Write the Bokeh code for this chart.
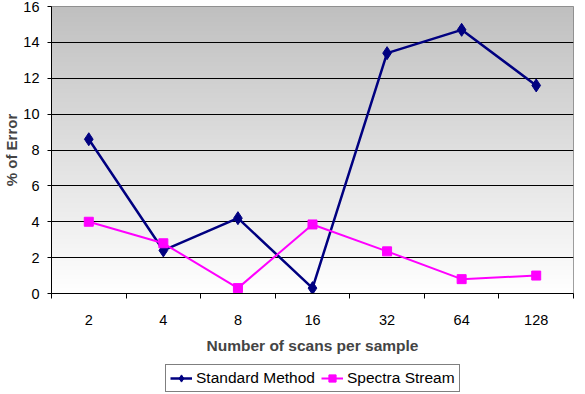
import numpy as np
from bokeh.plotting import figure
from bokeh.layouts import column
from bokeh.models import Range1d, FixedTicker, Legend, LegendItem
from bokeh.embed import file_html
from bokeh.resources import INLINE

# ---- data ----
scans = ["2", "4", "8", "16", "32", "64", "128"]
standard_method = [8.6, 2.4, 4.2, 0.3, 13.4, 14.7, 11.6]
spectra_stream = [4.0, 2.8, 0.3, 3.85, 2.35, 0.8, 1.0]
y_ticks = [0, 2, 4, 6, 8, 10, 12, 14, 16]
series_names = ["Standard Method", "Spectra Stream"]

FONT = "Liberation Sans"
navy = "#000080"
mag = "#FF00FF"

xs = [i + 0.5 for i in range(len(scans))]

p = figure(width=577, height=363, output_backend="svg", toolbar_location=None,
           x_range=Range1d(0, len(scans)), y_range=Range1d(0, 16),
           min_border_left=43, min_border_right=4, min_border_top=6,
           min_border_bottom=70)

p.background_fill_color = "white"
p.border_fill_color = "white"
p.outline_line_color = "#808080"
p.outline_line_width = 1

# plot-area gradient (grey top -> white bottom)
n = 256
t = np.linspace(0, 1, n)  # 0 bottom, 1 top
g = (255 - t * 63).astype(np.uint32)
img = np.empty((n, 1), dtype=np.uint32)
view = img.view(dtype=np.uint8).reshape((n, 1, 4))
view[:, 0, 0] = g
view[:, 0, 1] = g
view[:, 0, 2] = g
view[:, 0, 3] = 255
p.image_rgba(image=[img], x=0, y=0, dw=len(scans), dh=16, level="image")

# grid
p.xgrid.visible = False
p.ygrid.ticker = FixedTicker(ticks=y_ticks[1:-1])
p.ygrid.grid_line_color = "black"
p.ygrid.grid_line_width = 1

# y axis
p.yaxis.ticker = FixedTicker(ticks=y_ticks)
p.yaxis.axis_line_color = "black"
p.yaxis.major_tick_line_color = "black"
p.yaxis.major_tick_out = 4
p.yaxis.major_tick_in = 0
p.yaxis.minor_tick_line_color = None
p.yaxis.major_label_standoff = 8
p.yaxis.major_label_text_font = FONT
p.yaxis.major_label_text_font_size = "14.5px"
p.yaxis.major_label_text_color = "black"
p.yaxis.axis_label = "% of Error"
p.yaxis.axis_label_text_font = FONT
p.yaxis.axis_label_text_font_style = "bold"
p.yaxis.axis_label_text_font_size = "15px"
p.yaxis.axis_label_standoff = 0

# x axis: labels at category centres, ticks at boundaries
p.xaxis.ticker = FixedTicker(ticks=xs, minor_ticks=list(range(len(scans) + 1)))
p.xaxis.major_label_overrides = {x: s for x, s in zip(xs, scans)}
p.xaxis.axis_line_color = "black"
p.xaxis.major_tick_line_color = None
p.xaxis.major_tick_out = 5
p.xaxis.major_tick_in = 0
p.xaxis.minor_tick_line_color = "black"
p.xaxis.minor_tick_out = 5
p.xaxis.minor_tick_in = 0
p.xaxis.major_label_standoff = 16
p.xaxis.major_label_text_font = FONT
p.xaxis.major_label_text_font_size = "14.5px"
p.xaxis.major_label_text_color = "black"
p.xaxis.axis_label = "Number of scans per sample"
p.xaxis.axis_label_text_font = FONT
p.xaxis.axis_label_text_font_style = "bold"
p.xaxis.axis_label_text_font_size = "15.5px"
p.xaxis.axis_label_standoff = 9

# series
p.line(xs, standard_method, line_color=navy, line_width=2.5)
p.scatter(xs, standard_method, marker="diamond", size=13,
          fill_color=navy, line_color=navy)
p.line(xs, spectra_stream, line_color=mag, line_width=2)
p.scatter(xs, spectra_stream, marker="square", size=9,
          fill_color=mag, line_color=mag)

# legend strip below the chart (series drawn out of view; only the legend shows)
q = figure(width=577, height=30, output_backend="svg", toolbar_location=None,
           x_range=Range1d(0, 1), y_range=Range1d(-100, -99),
           x_axis_type=None, y_axis_type=None,
           min_border_left=0, min_border_right=0, min_border_top=0,
           min_border_bottom=0)
q.outline_line_color = None
q.xgrid.visible = False
q.ygrid.visible = False
q.background_fill_color = "white"
q.border_fill_color = "white"
ql1 = q.line(xs, standard_method, line_color=navy, line_width=2.5)
qm1 = q.scatter(xs, standard_method, marker="diamond", size=11,
                fill_color=navy, line_color=navy)
ql2 = q.line(xs, spectra_stream, line_color=mag, line_width=2)
qm2 = q.scatter(xs, spectra_stream, marker="square", size=8,
                fill_color=mag, line_color=mag)

legend = Legend(items=[LegendItem(label=series_names[0], renderers=[ql1, qm1]),
                       LegendItem(label=series_names[1], renderers=[ql2, qm2])],
                orientation="horizontal", location=(114, 1))
legend.label_text_font = FONT
legend.label_text_font_size = "15.5px"
legend.label_text_color = "black"
legend.glyph_width = 22
legend.glyph_height = 18
legend.label_standoff = 4
legend.spacing = 6
legend.padding = 4
legend.margin = 0
legend.border_line_color = "black"
legend.border_line_width = 1
legend.background_fill_color = "white"
legend.background_fill_alpha = 1
q.add_layout(legend, "center")

layout = column(p, q, spacing=0)
open("out.html", "w").write(file_html(layout, INLINE))
